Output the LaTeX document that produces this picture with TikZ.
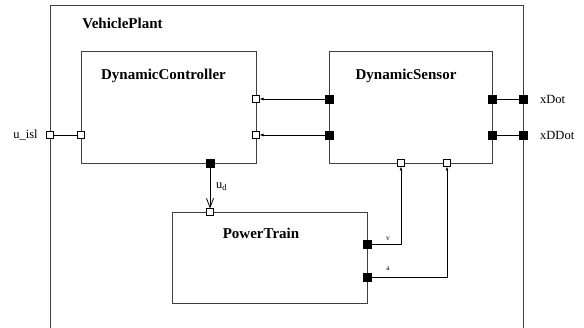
\documentclass[tikz,border=0pt]{standalone}
\usepackage{fontspec}
\setmainfont{Liberation Serif}
\usetikzlibrary{arrows.meta}
\begin{document}
\begin{tikzpicture}[x=1pt,y=-1pt,
  block/.style={draw=black!75, line width=0.8pt, anchor=north west, inner sep=0pt, outer sep=0pt},
  title/.style={font=\fontsize{15}{17}\selectfont\bfseries, inner sep=0pt},
  lbl/.style={font=\fontsize{12.5}{14}\selectfont, inner sep=0pt},
  small/.style={font=\fontsize{7.5}{9}\selectfont, inner sep=0pt},
  wport/.style={draw=black, fill=white, line width=0.6pt, minimum size=7pt, inner sep=0pt, outer sep=0pt},
  bport/.style={draw=black, fill=black, minimum size=8pt, inner sep=0pt, outer sep=0pt},
  conn/.style={draw=black, line width=0.8pt},
  arr/.style={conn, -{Latex[length=4pt,width=3pt]}},
  barb/.style={conn, -{Straight Barb[length=9pt,width=7pt]}}]
\useasboundingbox (0,0) rectangle (584,328);
% blocks
\node[block, minimum width=473pt, minimum height=345pt] (vp) at (50,5) {};
\node[block, minimum width=175pt, minimum height=112pt] (dc) at (81,51) {};
\node[block, minimum width=163pt, minimum height=112pt] (ds) at (329,51) {};
\node[block, minimum width=195pt, minimum height=91pt] (pt) at (172,212) {};
% titles
\node[title] (vpt) at (122.5,23) {VehiclePlant};
\node[title] (dct) at (163.5,76) {DynamicController};
\node[title] (dst) at (406,76) {DynamicSensor};
\node[title] (ptt) at (261,233) {PowerTrain};
% ports
\node[wport] (uo) at (50,135) {};
\node[wport] (dcl) at (81,135) {};
\node[wport] (dcr1) at (256,99) {};
\node[wport] (dcr2) at (256,135) {};
\node[bport] (dcb) at (210,163) {};
\node[bport] (dsl1) at (329,99) {};
\node[bport] (dsl2) at (329,135) {};
\node[bport] (dsr1) at (492,99) {};
\node[bport] (dsr2) at (492,135) {};
\node[bport] (or1) at (523,99) {};
\node[bport] (or2) at (523,135) {};
\node[wport] (dsb1) at (401,163) {};
\node[wport] (dsb2) at (447,163) {};
\node[wport] (ptin) at (210,212) {};
\node[bport] (ptr1) at (367,244) {};
\node[bport] (ptr2) at (367,277) {};
% connectors
\draw[conn] (uo) -- (dcl);
\draw[arr] (dsl1) -- (dcr1);
\draw[arr] (dsl2) -- (dcr2);
\draw[conn] (dsr1) -- (or1);
\draw[conn] (dsr2) -- (or2);
\draw[barb] (dcb) -- (ptin);
\draw[arr] (ptr1) -| (dsb1);
\draw[arr] (ptr2) -| (dsb2);
% labels
\node[lbl] (luisl) at (25.5,135) {u\_isl};
\node[lbl, anchor=west] (lxdot) at (540,99) {xDot};
\node[lbl, anchor=west] (lxddot) at (540,135) {xDDot};
\node[lbl, anchor=west] (lud) at (216,187) {u\textsubscript{d}};
\node[small] (lv) at (388,239) {v};
\node[small] (la) at (388,269) {a};
\end{tikzpicture}
\end{document}
